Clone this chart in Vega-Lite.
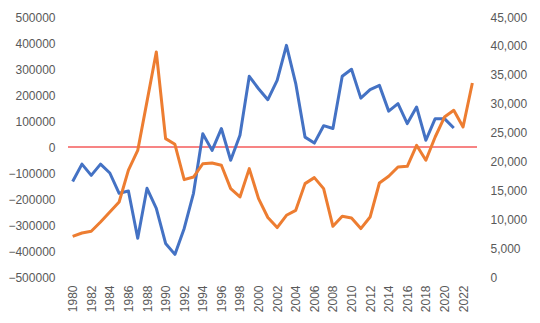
{
  "$schema": "https://vega.github.io/schema/vega-lite/v6.json",
  "width": 409,
  "height": 260,
  "autosize": "none",
  "padding": {"left": 68, "top": 17, "right": 63, "bottom": 46},
  "background": "white",
  "config": {
    "view": {"stroke": null},
    "axis": {"grid": false, "domain": false, "ticks": false, "labelColor": "#595959", "labelFontSize": 12, "labelFont": "Liberation Sans", "title": null, "labelOverlap": false, "labelSeparation": 0}
  },
  "datasets": {
    "blue": [
      {"year": 1980, "v": -133000}, {"year": 1981, "v": -66000}, {"year": 1982, "v": -109000},
      {"year": 1983, "v": -66000}, {"year": 1984, "v": -100000}, {"year": 1985, "v": -178000},
      {"year": 1986, "v": -169000}, {"year": 1987, "v": -351000}, {"year": 1988, "v": -159000},
      {"year": 1989, "v": -236000}, {"year": 1990, "v": -371000}, {"year": 1991, "v": -413000},
      {"year": 1992, "v": -313000}, {"year": 1993, "v": -178000}, {"year": 1994, "v": 51000},
      {"year": 1995, "v": -13000}, {"year": 1996, "v": 71000}, {"year": 1997, "v": -51000},
      {"year": 1998, "v": 45000}, {"year": 1999, "v": 272000}, {"year": 2000, "v": 224000},
      {"year": 2001, "v": 182000}, {"year": 2002, "v": 256000}, {"year": 2003, "v": 391000},
      {"year": 2004, "v": 244000}, {"year": 2005, "v": 38000}, {"year": 2006, "v": 15000},
      {"year": 2007, "v": 82000}, {"year": 2008, "v": 71000}, {"year": 2009, "v": 272000},
      {"year": 2010, "v": 299000}, {"year": 2011, "v": 188000}, {"year": 2012, "v": 221000},
      {"year": 2013, "v": 237000}, {"year": 2014, "v": 138000}, {"year": 2015, "v": 167000},
      {"year": 2016, "v": 90000}, {"year": 2017, "v": 154000}, {"year": 2018, "v": 26000},
      {"year": 2019, "v": 109000}, {"year": 2020, "v": 109000}, {"year": 2021, "v": 73000}
    ],
    "orange": [
      {"year": 1980, "v": 7040}, {"year": 1981, "v": 7620}, {"year": 1982, "v": 7910},
      {"year": 1983, "v": 9520}, {"year": 1984, "v": 11250}, {"year": 1985, "v": 12980},
      {"year": 1986, "v": 18500}, {"year": 1987, "v": 21900}, {"year": 1988, "v": 30400},
      {"year": 1989, "v": 38940}, {"year": 1990, "v": 23950}, {"year": 1991, "v": 22970},
      {"year": 1992, "v": 16850}, {"year": 1993, "v": 17300}, {"year": 1994, "v": 19600},
      {"year": 1995, "v": 19730}, {"year": 1996, "v": 19330}, {"year": 1997, "v": 15300},
      {"year": 1998, "v": 13850}, {"year": 1999, "v": 18760}, {"year": 2000, "v": 13570},
      {"year": 2001, "v": 10300}, {"year": 2002, "v": 8550}, {"year": 2003, "v": 10680},
      {"year": 2004, "v": 11540}, {"year": 2005, "v": 16160}, {"year": 2006, "v": 17200},
      {"year": 2007, "v": 15300}, {"year": 2008, "v": 8770}, {"year": 2009, "v": 10500},
      {"year": 2010, "v": 10210}, {"year": 2011, "v": 8380}, {"year": 2012, "v": 10380},
      {"year": 2013, "v": 16270}, {"year": 2014, "v": 17430}, {"year": 2015, "v": 19040},
      {"year": 2016, "v": 19160}, {"year": 2017, "v": 22790}, {"year": 2018, "v": 20200},
      {"year": 2019, "v": 24230}, {"year": 2020, "v": 27690}, {"year": 2021, "v": 28850},
      {"year": 2022, "v": 25960}, {"year": 2023, "v": 33580}
    ]
  },
  "layer": [
    {
      "layer": [
        {
          "data": {"values": [{"z": 0}]},
          "mark": {"type": "rule", "color": "#F45B5B", "strokeWidth": 1.5},
          "encoding": {"y": {"field": "z", "type": "quantitative",
              "scale": {"domain": [-500000, 500000], "nice": false},
              "axis": {"orient": "left", "values": [-500000,-400000,-300000,-200000,-100000,0,100000,200000,300000,400000,500000], "format": "d", "labelPadding": 13, "labelOverlap": false, "labelFlush": false}}}
        },
        {
          "data": {"name": "blue"},
          "mark": {"type": "line", "color": "#4472C4", "strokeWidth": 3, "strokeJoin": "round"},
          "encoding": {
            "x": {
              "field": "year", "type": "quantitative",
              "scale": {"domain": [1979.5, 2023.5], "nice": false, "zero": false},
              "axis": {"values": [1980,1982,1984,1986,1988,1990,1992,1994,1996,1998,2000,2002,2004,2006,2008,2010,2012,2014,2016,2018,2020,2022], "format": "d", "labelAngle": -90, "labelPadding": 8, "orient": "bottom", "labelOverlap": false, "labelFlush": false}
            },
            "y": {"field": "v", "type": "quantitative",
              "scale": {"domain": [-500000, 500000], "nice": false},
              "axis": {"orient": "left", "values": [-500000,-400000,-300000,-200000,-100000,0,100000,200000,300000,400000,500000], "format": "d", "labelPadding": 13, "labelOverlap": false, "labelFlush": false}}
          }
        }
      ]
    },
    {
      "data": {"name": "orange"},
      "mark": {"type": "line", "color": "#ED7D31", "strokeWidth": 3, "strokeJoin": "round"},
      "encoding": {
        "x": {
          "field": "year", "type": "quantitative",
          "scale": {"domain": [1979.5, 2023.5], "nice": false, "zero": false},
          "axis": {"values": [1980,1982,1984,1986,1988,1990,1992,1994,1996,1998,2000,2002,2004,2006,2008,2010,2012,2014,2016,2018,2020,2022], "format": "d", "labelAngle": -90, "labelPadding": 8, "orient": "bottom", "labelOverlap": false, "labelFlush": false}
        },
        "y": {"field": "v", "type": "quantitative",
          "scale": {"domain": [0, 45000], "nice": false},
          "axis": {"orient": "right", "values": [0,5000,10000,15000,20000,25000,30000,35000,40000,45000], "format": ",.0f", "labelPadding": 13, "labelOverlap": false, "labelFlush": false}}
      }
    }
  ],
  "resolve": {"scale": {"y": "independent"}}
}
